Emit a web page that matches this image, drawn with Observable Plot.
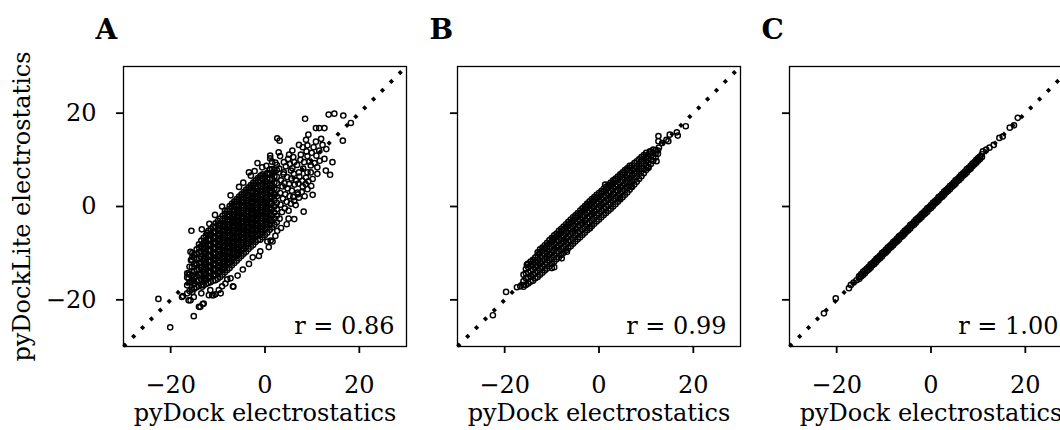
<!DOCTYPE html>
<html><head><meta charset="utf-8">
<script src="https://cdn.jsdelivr.net/npm/d3@7"></script>
<script src="https://cdn.jsdelivr.net/npm/@observablehq/plot@0.6"></script>
<style>
html,body{margin:0;padding:0;background:#fff;}
#fig{position:relative;width:1060px;height:430px;overflow:hidden;background:#fff;}
.panel{position:absolute;top:0;}
.panel svg{max-width:none !important;overflow:visible;}
</style></head><body><div id="fig"></div>
<script>
// ---- texts / ticks ----
const xTicks = [-20, 0, 20];
const yTicks = [-20, 0, 20];
const axisDomain = [-30, 30];
const letters = ["A", "B", "C"];
const rLabels = ["r = 0.86", "r = 0.99", "r = 1.00"];
const xLabel = "pyDock electrostatics";
const yLabel = "pyDockLite electrostatics";

// ---- panel A (pyDock x, pyDockLite y) : dense core columns [x, [y...]] ----
const aCore = [
[-16.5,[-18.6,-16.9,-15.2]],
[-16,[-18.1,-16.3,-14.6,-12.9]],
[-15.5,[-17.8,-16.1,-14.7,-13.0,-11.4]],
[-15,[-17.6,-16.4,-15.1,-13.8,-12.4,-11.0,-10.3]],
[-14.5,[-17.3,-16.0,-14.9,-13.6,-12.5,-11.2,-10.1,-9.2]],
[-14,[-17.0,-15.8,-14.6,-13.5,-12.2,-11.1,-9.9,-8.8,-8.1]],
[-13.5,[-16.8,-15.6,-14.4,-13.1,-12.0,-10.8,-9.7,-8.5,-7.3]],
[-13,[-16.9,-15.7,-14.5,-13.4,-12.3,-11.2,-10.0,-8.9,-7.8,-6.7]],
[-12.5,[-16.6,-15.3,-14.2,-13.0,-11.9,-10.7,-9.6,-8.4,-7.3,-6.2]],
[-12,[-16.4,-15.3,-14.1,-13.0,-11.8,-10.7,-9.5,-8.4,-7.2,-6.1,-5.2]],
[-11.5,[-16.2,-15.0,-13.9,-12.7,-11.6,-10.4,-9.3,-8.1,-7.0,-5.9,-4.8]],
[-11,[-15.9,-14.8,-13.6,-12.5,-11.3,-10.2,-9.0,-7.9,-6.7,-5.6,-4.3]],
[-10.5,[-15.8,-14.6,-13.5,-12.3,-11.2,-10.0,-8.9,-7.7,-6.6,-5.4,-4.3,-3.6]],
[-10,[-15.5,-14.3,-13.2,-12.0,-10.9,-9.7,-8.6,-7.4,-6.3,-5.1,-4.0,-3.1]],
[-9.5,[-15.1,-14.0,-12.8,-11.7,-10.5,-9.4,-8.2,-7.1,-5.9,-4.8,-3.6,-2.6]],
[-9,[-14.6,-13.5,-12.3,-11.2,-10.0,-8.9,-7.7,-6.6,-5.4,-4.3,-3.1,-2.0]],
[-8.5,[-14.1,-13.0,-11.8,-10.7,-9.5,-8.4,-7.2,-6.1,-4.9,-3.8,-2.6,-1.5,-0.9]],
[-8,[-13.6,-12.5,-11.3,-10.2,-9.0,-7.9,-6.7,-5.6,-4.4,-3.3,-2.1,-1.0]],
[-7.5,[-13.2,-12.0,-10.9,-9.7,-8.6,-7.4,-6.3,-5.1,-4.0,-2.8,-1.7,-0.5,0.1]],
[-7,[-12.6,-11.5,-10.3,-9.2,-8.0,-6.9,-5.7,-4.6,-3.4,-2.3,-1.1,0.0,0.6]],
[-6.5,[-12.1,-11.0,-9.8,-8.7,-7.5,-6.4,-5.2,-4.1,-2.9,-1.8,-0.6,0.5,1.1]],
[-6,[-11.6,-10.5,-9.3,-8.2,-7.0,-5.9,-4.7,-3.6,-2.4,-1.3,-0.1,1.0,1.6]],
[-5.5,[-11.1,-10.0,-8.8,-7.7,-6.5,-5.4,-4.2,-3.1,-1.9,-0.8,0.4,1.5,2.1]],
[-5,[-10.6,-9.5,-8.3,-7.2,-6.0,-4.9,-3.7,-2.6,-1.4,-0.3,0.9,2.0,2.6]],
[-4.5,[-10.1,-9.0,-7.8,-6.7,-5.5,-4.4,-3.2,-2.1,-0.9,0.2,1.4,2.5,3.1]],
[-4,[-9.7,-8.5,-7.4,-6.2,-5.1,-3.9,-2.8,-1.6,-0.5,0.7,1.8,3.0,3.6]],
[-3.5,[-9.1,-8.0,-6.8,-5.7,-4.5,-3.4,-2.2,-1.1,0.1,1.2,2.4,3.5,4.1]],
[-3,[-8.6,-7.5,-6.3,-5.2,-4.0,-2.9,-1.7,-0.6,0.6,1.7,2.9,4.0,4.6]],
[-2.5,[-8.2,-7.0,-5.9,-4.7,-3.6,-2.4,-1.3,-0.1,1.0,2.2,3.3,4.5,5.1]],
[-2,[-7.6,-6.5,-5.3,-4.2,-3.0,-1.9,-0.7,0.4,1.6,2.7,3.9,5.0,5.6]],
[-1.5,[-7.2,-6.0,-4.9,-3.7,-2.6,-1.4,-0.3,0.9,2.0,3.2,4.3,5.5,6.1]],
[-1,[-7.1,-5.9,-4.8,-3.6,-2.5,-1.3,-0.2,1.0,2.1,3.3,4.4,5.6,6.5]],
[-0.5,[-6.6,-5.4,-4.3,-3.1,-2.0,-0.8,0.3,1.5,2.6,3.8,4.9,6.1,6.9]],
[0,[-6.1,-4.9,-3.8,-2.6,-1.5,-0.3,0.8,2.0,3.1,4.3,5.4,6.6]],
[0.5,[-5.6,-4.4,-3.3,-2.1,-1.0,0.2,1.3,2.5,3.6,4.8,5.9,7.2]],
[1,[-5.0,-3.8,-2.6,-1.4,-0.2,1.0,2.2,3.4,4.6,5.8,7.0,7.9]],
[1.5,[-4.5,-3.2,-1.9,-0.6,0.7,2.0,3.3,4.6,5.9,7.2,8.0]],
[2,[-3.9,-2.6,-1.3,0.0,1.3,2.6,3.9,5.2,6.5,7.8]],
[2.5,[-3.4,-2.0,-0.6,0.8,2.2,3.6,5.0,6.4,7.8,8.9]]
];
// panel A: extra points in the darkest middle of the cloud
const aCoreMid = [
[-12.75,[-15.9,-14.7,-13.6,-12.4,-11.3,-10.1,-9.0,-7.8]],
[-11.75,[-15.2,-14.0,-12.9,-11.7,-10.6,-9.4,-8.3,-7.1,-6.0]],
[-10.75,[-14.5,-13.3,-12.2,-11.0,-9.9,-8.7,-7.6,-6.4,-5.3]],
[-9.75,[-13.8,-12.6,-11.5,-10.3,-9.2,-8.0,-6.9,-5.7,-4.6]],
[-8.75,[-12.9,-11.7,-10.6,-9.4,-8.3,-7.1,-6.0,-4.8,-3.7]],
[-7.75,[-11.9,-10.7,-9.6,-8.4,-7.3,-6.1,-5.0,-3.8,-2.7]],
[-6.75,[-10.9,-9.7,-8.6,-7.4,-6.3,-5.1,-4.0,-2.8,-1.7]],
[-5.75,[-9.9,-8.7,-7.6,-6.4,-5.3,-4.1,-3.0,-1.8,-0.7]],
[-4.75,[-8.9,-7.7,-6.6,-5.4,-4.3,-3.1,-2.0,-0.8,0.3]],
[-3.75,[-7.9,-6.7,-5.6,-4.4,-3.3,-2.1,-1.0,0.2,1.3]],
[-2.75,[-6.9,-5.7,-4.6,-3.4,-2.3,-1.1,0.0,1.2,2.3]],
[-1.75,[-5.9,-4.7,-3.6,-2.4,-1.3,-0.1,1.0,2.2,3.3]],
[-0.75,[-4.9,-3.7,-2.6,-1.4,-0.3,0.9,2.0,3.2,4.3]],
[0.25,[-3.9,-2.7,-1.6,-0.4,0.7,1.9,3.0,4.2,5.3]],
[1.25,[-2.9,-1.7,-0.6,0.6,1.7,2.9,4.0]]
];
// panel A scattered points [x, y]
const aScatter = [
[3.1,-2.6],[3.3,0.4],[3.2,2.9],[3.4,5.6],[3.0,8.1],[3.6,-1.2],[3.8,1.7],[3.7,4.3],[3.9,6.9],[4.2,-0.4],
[4.3,2.6],[4.1,5.0],[4.4,8.6],[4.6,1.0],[4.8,3.9],[4.7,6.3],[5.0,-0.9],[5.2,2.2],[5.1,4.8],[5.3,9.1],
[5.5,0.6],[5.7,3.4],[5.6,6.0],[5.8,8.2],[6.0,2.0],[6.3,4.7],[6.1,7.0],[6.5,0.3],[6.6,5.6],[6.8,8.9],
[7.0,2.6],[7.1,4.9],[7.3,6.4],[7.5,10.0],[7.8,3.1],[7.9,5.5],[8.1,8.1],[8.4,2.2],[8.6,4.8],[8.8,11.8],
[9.2,5.4],[9.4,9.6],[9.8,4.4],[10.5,9.3],[10.9,10.9],[11.6,9.8],[12.2,13.2],[13.0,12.3],[8.7,14.3],[7.2,13.2],
[6.0,10.6],[4.9,10.2],[2.9,11.6],[2.2,9.4],[1.5,9.6],[0.3,8.7],[-0.6,8.4],[-2.2,7.6],[-4.6,5.1],[-5.5,4.2],
[-7.3,2.4],[-9.1,0.0],[-10.6,-1.8],[-11.8,-3.7],[-13.4,-4.9],[-1.0,-9.6],[-2.6,-10.9],[-4.7,-13.5],[-5.8,-14.8],[-8.0,-15.6],
[0.8,-8.7],[3.4,-4.6],[4.6,-3.8],[2.2,-6.3],
[8.5,18.8],[13.5,19.7],[14.7,19.9],[16.6,19.5],[18.2,17.9],[16.5,14.1],[10.8,16.8],[11.5,16.8],[12.6,16.8],[9.2,15.4],
[11.9,14.5],[2.6,14.6],[3.1,14.1],[10.8,13.9],[9.0,13.1],[8.0,12.7],[9.9,11.5],[11.5,12.0],[10.3,12.7],[1.1,10.9],
[1.1,10.3],[3.2,10.8],[5.8,12.0],[5.1,11.1],[7.6,11.1],[9.0,10.8],[-1.6,9.3],[4.0,9.5],[6.2,9.5],[8.3,9.5],
[9.7,8.8],[-3.4,7.3],[-3.0,6.6],[12.6,10.2],[14.3,9.5],[12.9,7.7],[13.8,6.8],[11.1,8.4],[9.7,7.3],[8.7,6.2],
[4.0,7.3],[5.5,7.7],[7.2,7.3],[9.0,7.3],[10.1,5.9],[11.1,7.0],[9.0,3.7],[10.1,2.5],[8.2,-1.1],[8.0,4.3],
[7.2,1.9],[6.2,1.2],[6.9,3.0],[-0.9,6.6],[0.5,7.0],[1.9,7.3],[6.2,-2.7],[2.6,-5.2],[1.6,-7.5],[0.5,-7.5],
[1.2,-7.3],[-1.3,-10.6],[5.0,-2.6],[-3.4,-12.3],
[-15.6,-5.2],[-12.3,-5.7],[-13.0,-7.9],[-15.8,-9.7],[-15.4,-10.8],[-15.4,-10.0],[-15.7,-11.5],[-14.7,-12.2],[-14.4,-13.6],[-16.5,-14.3],
[-16.2,-15.4],[-15.4,-15.8],[-15.1,-16.5],[-16.2,-14.3],[-6.7,-17.2],[-7.3,-15.4],[-6.8,-17.1],[-9.4,-18.6],[-10.9,-19.0],[-11.9,-19.0],
[-11.2,-19.0],[-10.5,-18.8],[-9.1,-17.1],[-8.4,-16.5],[-9.8,-17.9],[-11.6,-17.9],[-12.6,-15.8],[-13.0,-20.8],[-13.7,-21.5],[-15.1,-23.5],
[-15.8,-20.1],[-17.6,-19.4],[-22.6,-19.8],[-20.1,-25.9],[-14.0,-21.5],[-13.2,-20.9],[-16.2,-20.1],[-15.1,-19.4],[-15.4,-18.3],[-17.4,-19.2],
[-13.3,-17.2],[-13.5,-18.6]
];

// ---- panel B ----
const bCore = [
[-16,[-17.2,-16.0,-14.6]],
[-15.5,[-16.8,-15.4,-14.3,-13.4]],
[-15,[-16.5,-15.2,-14.1,-13.0,-12.3]],
[-14.5,[-16.1,-14.9,-13.8,-12.7,-11.8]],
[-14,[-15.9,-14.6,-13.5,-12.4,-11.4]],
[-13.5,[-15.4,-14.2,-13.0,-11.9,-10.9]],
[-13,[-15.1,-13.8,-12.6,-11.5,-10.4,-9.8]],
[-12.5,[-14.6,-13.3,-12.2,-11.0,-9.9,-9.2]],
[-12,[-14.2,-12.9,-11.7,-10.6,-9.5,-8.8]],
[-11.5,[-13.7,-12.4,-11.2,-10.1,-9.0,-8.3]],
[-11,[-13.3,-12.0,-10.8,-9.6,-8.5,-7.8]],
[-10.5,[-12.8,-11.5,-10.3,-9.1,-8.0,-7.2]],
[-10,[-12.3,-11.0,-9.8,-8.6,-7.5,-6.7]],
[-9.5,[-11.8,-10.5,-9.3,-8.1,-7.0,-6.2]],
[-9,[-11.3,-10.0,-8.8,-7.6,-6.5,-5.8]],
[-8.5,[-10.9,-9.6,-8.4,-7.2,-6.0,-5.2]],
[-8,[-10.4,-9.1,-7.9,-6.7,-5.5,-4.8]],
[-7.5,[-9.9,-8.6,-7.4,-6.2,-5.0,-4.3]],
[-7,[-9.4,-8.1,-6.9,-5.7,-4.5,-3.8]],
[-6.5,[-8.9,-7.6,-6.4,-5.2,-4.0,-3.3]],
[-6,[-8.5,-7.2,-5.9,-4.7,-3.5,-2.8]],
[-5.5,[-8.0,-6.7,-5.4,-4.2,-3.0,-2.3]],
[-5,[-7.5,-6.2,-4.9,-3.7,-2.5,-1.9]],
[-4.5,[-7.0,-5.7,-4.4,-3.2,-2.0,-1.4]],
[-4,[-6.6,-5.3,-4.0,-2.8,-1.6,-0.9]],
[-3.5,[-6.1,-4.8,-3.5,-2.3,-1.1,-0.4]],
[-3,[-5.6,-4.3,-3.0,-1.8,-0.6,0.1]],
[-2.5,[-5.1,-3.8,-2.5,-1.3,-0.1,0.6]],
[-2,[-4.7,-3.4,-2.1,-0.9,0.3,1.1]],
[-1.5,[-4.2,-2.9,-1.6,-0.4,0.8,1.6]],
[-1,[-3.7,-2.4,-1.1,0.1,1.3,2.0]],
[-0.5,[-3.2,-1.9,-0.6,0.6,1.8,2.5]],
[0,[-2.8,-1.5,-0.2,1.0,2.2,2.9]],
[0.5,[-2.3,-1.0,0.3,1.5,2.7,3.3]],
[1,[-1.8,-0.5,0.8,2.0,3.2,3.8]],
[1.5,[-1.4,-0.1,1.2,2.4,3.6,4.2]],
[2,[-0.9,0.4,1.7,2.9,4.1,4.7]],
[2.5,[-0.5,0.8,2.1,3.3,4.5,5.1]],
[3,[0.0,1.3,2.6,3.8,5.0,5.6]],
[3.5,[0.5,1.8,3.1,4.3,5.5,6.0]],
[4,[1.0,2.3,3.5,4.7,5.9,6.4]],
[4.5,[1.5,2.8,4.0,5.2,6.4,6.9]],
[5,[2.0,3.3,4.5,5.7,6.8,7.3]],
[5.5,[2.5,3.8,5.0,6.2,7.3,7.8]],
[6,[3.0,4.3,5.5,6.7,7.8,8.2]],
[6.5,[3.6,4.8,6.0,7.2,8.3,8.7]],
[7,[4.2,5.4,6.6,7.7,8.8]],
[7.5,[4.7,5.9,7.1,8.2,9.3]],
[8,[5.3,6.5,7.6,8.7,9.7]],
[8.5,[5.9,7.0,8.1,9.2,10.1]],
[9,[6.5,7.6,8.7,9.7,10.6]],
[9.5,[7.1,8.2,9.2,10.2,11.0]],
[10,[7.8,8.8,9.8,10.7,11.5]],
[10.5,[8.5,9.4,10.3,11.2]],
[11,[9.1,10.0,10.9,11.7]],
[11.5,[9.8,10.7,11.5,12.2]],
[12,[10.5,11.3,12.1]],
[12.5,[11.3,12.0]]
];
const bScatter = [
[18.4,17.2],[16.5,15.9],[16.7,15.2],[15.0,15.4],[14.3,14.3],[14.7,14.0],[12.6,15.1],[12.6,14.0],[13.4,13.6],[12.7,12.6],
[10.8,11.8],[12.2,9.7],[10.3,8.3],[10.5,8.3],[6.8,4.2],[4.4,1.8],[-2.6,0.4],[1.3,4.7],[-22.5,-23.3],[-19.7,-18.3],
[-17.4,-17.3],[-16.7,-17.1],[-15.9,-16.8],[-15.3,-12.5],[-13.9,-11.5],[-12.6,-9.9],[-9.5,-13.0],[-7.9,-11.1],[-6.8,-9.7],[-9.7,-6.8],
[-1.9,-4.6],[-15.1,-12.3],[-10.0,-13.2],[6.9,4.3]
];

// ---- panel C ----
const cCore = [
[-15.2,[-15.5,-14.9]],[-14.8,[-15.0,-14.5]],[-14.4,[-14.7,-14.0]],[-14.0,[-14.3,-13.7]],[-13.6,[-13.8,-13.3]],
[-13.2,[-13.5,-12.9]],[-12.8,[-13.1,-12.4]],[-12.4,[-12.6,-12.1]],[-12.0,[-12.3,-11.7]],[-11.6,[-11.9,-11.2]],
[-11.2,[-11.4,-10.9]],[-10.8,[-11.1,-10.5]],[-10.4,[-10.7,-10.0]],[-10.0,[-10.2,-9.7]],[-9.6,[-9.9,-9.3]],
[-9.2,[-9.5,-8.8]],[-8.8,[-9.0,-8.5]],[-8.4,[-8.7,-8.1]],[-8.0,[-8.3,-7.6]],[-7.6,[-7.8,-7.3]],
[-7.2,[-7.5,-6.9]],[-6.8,[-7.1,-6.4]],[-6.4,[-6.6,-6.1]],[-6.0,[-6.3,-5.7]],[-5.6,[-5.9,-5.2]],
[-5.2,[-5.4,-4.9]],[-4.8,[-5.1,-4.5]],[-4.4,[-4.7,-4.0]],[-4.0,[-4.2,-3.7]],[-3.6,[-3.9,-3.3]],
[-3.2,[-3.5,-2.8]],[-2.8,[-3.0,-2.5]],[-2.4,[-2.7,-2.1]],[-2.0,[-2.3,-1.6]],[-1.6,[-1.8,-1.3]],
[-1.2,[-1.5,-0.9]],[-0.8,[-1.1,-0.4]],[-0.4,[-0.6,-0.1]],[0.0,[-0.3,0.3]],[0.4,[0.1,0.8]],
[0.8,[0.6,1.1]],[1.2,[0.9,1.5]],[1.6,[1.3,2.0]],[2.0,[1.8,2.3]],[2.4,[2.1,2.7]],
[2.8,[2.5,3.2]],[3.2,[3.0,3.5]],[3.6,[3.3,3.9]],[4.0,[3.7,4.4]],[4.4,[4.2,4.7]],
[4.8,[4.5,5.1]],[5.2,[4.9,5.6]],[5.6,[5.4,5.9]],[6.0,[5.7,6.3]],[6.4,[6.1,6.8]],
[6.8,[6.6,7.1]],[7.2,[6.9,7.5]],[7.6,[7.3,8.0]],[8.0,[7.8,8.3]],[8.4,[8.1,8.7]],
[8.8,[8.6,9.2]],[9.2,[9.0,9.5]],[9.6,[9.4,10.0]],[10.0,[9.8,10.4]],[10.4,[10.2,10.7]],
[10.8,[10.6,11.2]]
];
const cScatter = [
[-22.7,-22.9],[-20.2,-19.7],[-17.4,-17.5],[-17.0,-16.8],[-15.8,-15.8],[-15.3,-15.1],[-16.4,-16.3],[11.0,11.8],[11.7,12.2],[12.4,12.6],
[13.3,13.2],[14.5,14.7],[15.2,15.0],[16.7,16.9],[18.4,19.0],[17.6,17.4]
];

// ---- build ----
function expand(cols){const out=[];for(const [x,ys] of cols)for(const y of ys)out.push({x,y});return out;}
function pairs(arr){return arr.map(([x,y])=>({x,y}));}
const panels = [
  expand(aCore).concat(expand(aCoreMid), pairs(aScatter)),
  expand(bCore).concat(pairs(bScatter)),
  expand(cCore).concat(pairs(cScatter))
];
const layout = [
  {left:0, width:431, ml:123, mr:25, rdx:-12},
  {left:431, width:334, ml:26, mr:25, rdx:-14},
  {left:765, width:334, ml:24, mr:27, rdx:-14}
];
const fmt = d => d < 0 ? "\u2212" + Math.abs(d) : String(d);
const FONT = "DejaVu Serif";
const fig = document.getElementById("fig");

panels.forEach((data, i) => {
  const L = layout[i];
  const marks = [
    Plot.frame({stroke:"black", strokeWidth:1.3}),
    Plot.axisX({ticks:xTicks, tickSize:7, tickPadding:22.5, tickFormat:fmt, label:null, strokeWidth:1.8, fontSize:24}),
    Plot.axisY({ticks:yTicks, tickSize:7, tickPadding:20, tickFormat: i === 0 ? fmt : () => "", label:null, strokeWidth:1.8, fontSize:24}),
    Plot.dot(data, {x:"x", y:"y", r:2.6, stroke:"black", strokeWidth:1.45, fill:"none"}),
    Plot.line(axisDomain.map(v => ({x:v, y:v})), {x:"x", y:"y", stroke:"black", strokeWidth:3.8, strokeDasharray:"3.6,8.9", strokeLinecap:"butt"}),
    Plot.text([rLabels[i]], {frameAnchor:"bottom-right", text:d=>d, dx:L.rdx, dy:-12.7, textAnchor:"end", lineAnchor:"bottom", fontSize:24, fill:"black"}),
    Plot.text([letters[i]], {frameAnchor:"top-left", text:d=>d, dx:-28, dy:-47, textAnchor:"start", lineAnchor:"top", fontSize:28, fontWeight:"bold", fill:"black"}),
    Plot.text([xLabel], {frameAnchor:"bottom", text:d=>d, dy:74.7, textAnchor:"middle", lineAnchor:"bottom", fontSize:24, fill:"black"})
  ];
  if (i === 0) marks.push(Plot.text([yLabel], {frameAnchor:"left", text:d=>d, rotate:-90, dx:-101, textAnchor:"middle", lineAnchor:"middle", fontSize:24, fill:"black"}));
  const svg = Plot.plot({
    width: L.width, height: 430,
    marginLeft: L.ml, marginRight: L.mr, marginTop: 66, marginBottom: 84,
    x: {domain: axisDomain},
    y: {domain: axisDomain},
    style: {fontFamily: FONT, fontSize: "24px", color: "black", background: "transparent", overflow: "visible"},
    marks
  });
  const div = document.createElement("div");
  div.className = "panel";
  div.style.left = L.left + "px";
  div.style.width = L.width + "px";
  div.appendChild(svg);
  fig.appendChild(div);
});
</script>
</body></html>
